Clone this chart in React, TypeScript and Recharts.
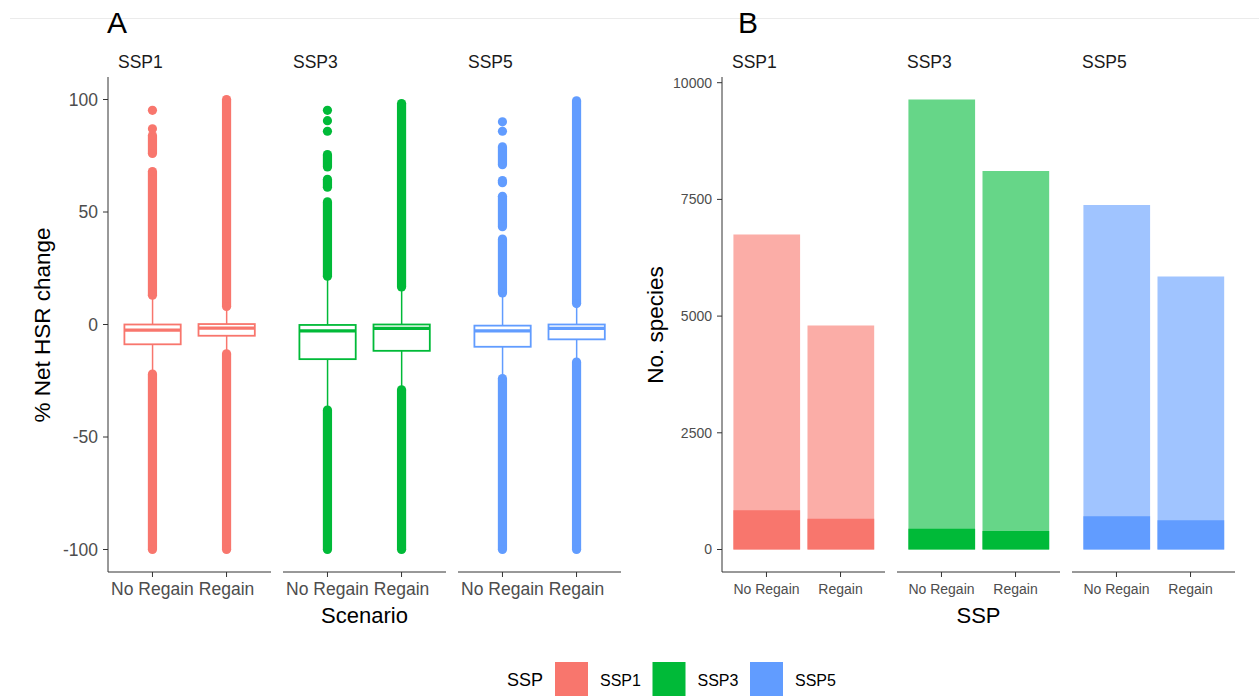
import { Bar, ComposedChart, Scatter, XAxis, YAxis } from "recharts";

const SSPS = ["SSP1", "SSP3", "SSP5"];
const SCENARIOS = ["No Regain", "Regain"];
const SSP_COLORS = ["#F8766D", "#00BA38", "#619CFF"];

const HSR_TICKS = [-100, -50, 0, 50, 100];
const SPECIES_TICKS = [0, 2500, 5000, 7500, 10000];

// Panel A: % net HSR change, per SSP -> [No Regain, Regain]
const WHISKER_LOW = [[-21, -12], [-36.5, -28], [-23, -15.5]];
const Q1 = [[-8.8, -5], [-15.4, -11.7], [-9.9, -6.6]];
const MEDIAN = [[-2.5, -1.6], [-2.8, -1.7], [-2.8, -1.7]];
const Q3 = [[0, 0.2], [-0.2, 0], [-0.5, 0]];
const WHISKER_HIGH = [[12, 7], [20, 15.5], [12.5, 8.5]];

// outliers so dense they merge into a column: [from, to] (dot centres)
const OUTLIER_RUNS = [
  [[[-100, -22], [13, 68], [76, 84]], [[-100, -13], [8, 100]]],
  [[[-100, -38], [21.5, 54.5], [61, 64.5], [70, 75.5]], [[-100, -29], [16.7, 98.2]]],
  [[[-100, -24], [14, 38], [43.5, 57], [63, 64], [71, 79]], [[-100, -16.7], [9.3, 99.4]]],
];
// single outliers that stand apart
const OUTLIER_DOTS = [
  [[87, 95.2], []],
  [[85.9, 90.6, 95.2], []],
  [[85.9, 90.1], []],
];

// Panel B: number of species, per SSP -> [No Regain, Regain]
const SPECIES_TOTAL = [[6750, 4800], [9640, 8110], [7380, 5850]];
const SPECIES_SUBSET = [[840, 660], [445, 395], [710, 625]];

const FONT = '"Liberation Sans", Arial, Helvetica, sans-serif';
const TICK_GREY = "#4d4d4d";
const AXIS_GREY = "#333333";

// layout
const PLOT_TOP = 77;
const PLOT_H = 495;
const PLOT_W = 163;
const FACET_STEP = 175;
const A_LEFT = 108;
const B_LEFT = 722;
const Y_AXIS_W = 60;
const X_AXIS_H = 45;
const MARGIN_TOP = 5;
const UNIT = PLOT_W / 2.2; // px per discrete step (ggplot adds 0.6 each side)
const DOT_R = 4.6;

function BoxShape(props: any) {
  const { x, y, width, height, payload, fill } = props;
  const [lo, hi] = payload.whisker;
  const top = Math.min(y, y + height);
  const bot = Math.max(y, y + height);
  const py = (v: number) => top + ((hi - v) / (hi - lo)) * (bot - top);
  const cx = x + width / 2;
  const yq3 = py(payload.q3);
  const yq1 = py(payload.q1);
  const ym = py(payload.med);
  return (
    <g>
      <line x1={cx} x2={cx} y1={top} y2={bot} stroke={fill} strokeWidth={1.5} />
      <rect x={x} y={yq3} width={width} height={yq1 - yq3} fill="#fff" stroke={fill} strokeWidth={1.8} />
      <line x1={x} x2={x + width} y1={ym} y2={ym} stroke={fill} strokeWidth={3.2} />
    </g>
  );
}

function xAxisProps(fontSize: number, margin: number) {
  return {
    dataKey: "x",
    type: "number" as const,
    domain: [0.4, 2.6],
    ticks: [1, 2],
    interval: 0 as const,
    tickFormatter: (v: number) => SCENARIOS[v - 1],
    height: X_AXIS_H,
    tickSize: 5,
    tickMargin: margin,
    stroke: AXIS_GREY,
    tick: { fill: TICK_GREY, fontSize },
    allowDataOverflow: true,
  };
}

function BoxFacet({ i }: { i: number }) {
  const color = SSP_COLORS[i];
  const first = i === 0;
  const rows = SCENARIOS.map((_, j) => ({
    x: j + 1,
    whisker: [WHISKER_LOW[i][j], WHISKER_HIGH[i][j]],
    q1: Q1[i][j],
    med: MEDIAN[i][j],
    q3: Q3[i][j],
  }));
  const dots = SCENARIOS.flatMap((_, j) => OUTLIER_DOTS[i][j].map((v) => ({ x: j + 1, v })));
  const runs = SCENARIOS.flatMap((_, j) =>
    OUTLIER_RUNS[i][j].map((r) => [
      { x: j + 1, v: r[0] },
      { x: j + 1, v: r[1] },
    ])
  );
  const dot = (p: any) => <circle cx={p.cx} cy={p.cy} r={DOT_R} fill={color} />;
  const w = PLOT_W + (first ? Y_AXIS_W : 0);
  return (
    <div style={{ position: "absolute", left: A_LEFT + i * FACET_STEP - (first ? Y_AXIS_W : 0), top: PLOT_TOP - MARGIN_TOP }}>
      <ComposedChart width={w} height={MARGIN_TOP + PLOT_H + X_AXIS_H} data={rows} margin={{ top: MARGIN_TOP, right: 0, bottom: 0, left: 0 }}>
        <XAxis {...xAxisProps(17.5, 6)} />
        <YAxis
          type="number"
          domain={[-110, 110]}
          ticks={HSR_TICKS}
          hide={!first}
          width={Y_AXIS_W}
          tickSize={5}
          tickMargin={5}
          stroke={AXIS_GREY}
          tick={{ fill: TICK_GREY, fontSize: 17.5 }}
          allowDataOverflow
        />
        {runs.map((run, k) => (
          <Scatter
            key={k}
            data={run}
            dataKey="v"
            fill={color}
            shape={dot}
            line={{ stroke: color, strokeWidth: DOT_R * 2 }}
            isAnimationActive={false}
          />
        ))}
        <Scatter data={dots} dataKey="v" fill={color} shape={dot} isAnimationActive={false} />
        <Bar dataKey="whisker" fill={color} barSize={UNIT * 0.76} shape={<BoxShape />} isAnimationActive={false} />
      </ComposedChart>
    </div>
  );
}

function BarFacet({ i }: { i: number }) {
  const color = SSP_COLORS[i];
  const first = i === 0;
  const rows = SCENARIOS.map((_, j) => ({
    x: j + 1,
    total: SPECIES_TOTAL[i][j],
    subset: SPECIES_SUBSET[i][j],
  }));
  const w = PLOT_W + (first ? Y_AXIS_W : 0);
  return (
    <div style={{ position: "absolute", left: B_LEFT + i * FACET_STEP - (first ? Y_AXIS_W : 0), top: PLOT_TOP - MARGIN_TOP }}>
      <ComposedChart width={w} height={MARGIN_TOP + PLOT_H + X_AXIS_H} data={rows} margin={{ top: MARGIN_TOP, right: 0, bottom: 0, left: 0 }}>
        <XAxis xAxisId="main" {...xAxisProps(14, 7)} />
        <XAxis xAxisId="over" {...xAxisProps(14, 7)} hide />
        <YAxis
          type="number"
          domain={[-482, 10122]}
          ticks={SPECIES_TICKS}
          hide={!first}
          width={Y_AXIS_W}
          tickSize={5}
          tickMargin={5}
          stroke={AXIS_GREY}
          tick={{ fill: TICK_GREY, fontSize: 14 }}
          allowDataOverflow
        />
        <Bar xAxisId="main" dataKey="total" fill={color} fillOpacity={0.6} barSize={UNIT * 0.9} isAnimationActive={false} />
        <Bar xAxisId="over" dataKey="subset" fill={color} barSize={UNIT * 0.9} isAnimationActive={false} />
      </ComposedChart>
    </div>
  );
}

export default function App() {
  const aCentre = A_LEFT + FACET_STEP + PLOT_W / 2;
  const bCentre = B_LEFT + FACET_STEP + PLOT_W / 2;
  return (
    <div
      style={{
        position: "absolute",
        left: 0,
        top: 0,
        width: 1259,
        height: 696,
        background: "#fff",
        fontFamily: FONT,
        overflow: "hidden",
      }}
    >
      {SSPS.map((_, i) => (
        <BoxFacet key={`a${i}`} i={i} />
      ))}
      {SSPS.map((_, i) => (
        <BarFacet key={`b${i}`} i={i} />
      ))}
      <svg width={1259} height={696} style={{ position: "absolute", left: 0, top: 0, pointerEvents: "none" }} fontFamily={FONT}>
        <line x1={10} x2={1259} y1={18.5} y2={18.5} stroke="#ebebeb" strokeWidth={1} />
        <text x={107} y={33} fontSize={30}>A</text>
        <text x={738} y={33} fontSize={30}>B</text>
        {SSPS.map((s, i) => (
          <g key={s}>
            <text x={A_LEFT + i * FACET_STEP + 10} y={68} fontSize={17.5} fill="#1a1a1a">{s}</text>
            <text x={B_LEFT + i * FACET_STEP + 10} y={68} fontSize={17.5} fill="#1a1a1a">{s}</text>
          </g>
        ))}
        <text x={42} y={325} fontSize={22.5} textAnchor="middle" dominantBaseline="central" transform="rotate(-90 42 325)">
          % Net HSR change
        </text>
        <text x={655} y={325} fontSize={22.5} textAnchor="middle" dominantBaseline="central" transform="rotate(-90 655 325)">
          No. species
        </text>
        <text x={aCentre} y={623} fontSize={22} textAnchor="middle">Scenario</text>
        <text x={bCentre} y={623} fontSize={22} textAnchor="middle">SSP</text>
        <text x={507} y={686} fontSize={18}>SSP</text>
        {SSPS.map((s, i) => (
          <g key={`leg${s}`}>
            <rect x={555 + i * 97.5} y={662} width={33} height={34} fill={SSP_COLORS[i]} />
            <text x={600 + i * 97.5} y={686} fontSize={16}>{s}</text>
          </g>
        ))}
      </svg>
    </div>
  );
}
